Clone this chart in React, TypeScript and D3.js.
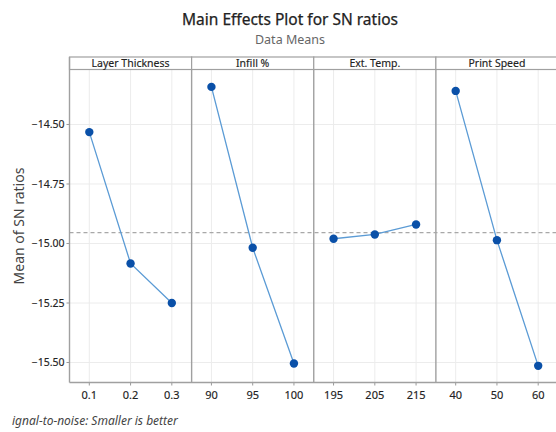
import React from 'react';
import * as d3 from 'd3';

// factor levels and mean SN ratios
const factors = ['Layer Thickness', 'Infill %', 'Ext. Temp.', 'Print Speed'];
const layerLevels = ['0.1', '0.2', '0.3'];
const layerSN = [-14.532, -15.084, -15.25];
const infillLevels = ['90', '95', '100'];
const infillSN = [-14.342, -15.018, -15.504];
const tempLevels = ['195', '205', '215'];
const tempSN = [-14.98, -14.962, -14.92];
const speedLevels = ['40', '50', '60'];
const speedSN = [-14.359, -14.986, -15.514];
const yTicks = [-14.5, -14.75, -15.0, -15.25, -15.5];

const W = 556;
const H = 432;
const plotLeft = 69.5;
const plotRight = 558;
const stripTop = 57;
const plotTop = 69.5;
const plotBottom = 382.5;
const font = "'Noto Sans', 'Open Sans', sans-serif";

const App = () => {
  const levels = [layerLevels, infillLevels, tempLevels, speedLevels];
  const values = [layerSN, infillSN, tempSN, speedSN];
  const grandMean = d3.mean(values.flat()) as number;

  const y = d3.scaleLinear().domain([-15.584, -14.269]).range([plotBottom, plotTop]);
  const panel = d3.scaleBand().domain(factors).range([plotLeft, plotRight]).paddingInner(0);
  const fmt = d3.format('.2f');

  const line = d3.line<[number, number]>().x(d => d[0]).y(d => d[1]);

  return (
    <svg width={W} height={H} style={{ position: 'absolute', left: 0, top: 0, background: '#fff' }} fontFamily={font}>
      <text x={290} y={25} textAnchor="middle" fontSize={15.5} fill="#222" stroke="#222" strokeWidth={0.25}>Main Effects Plot for SN ratios</text>
      <text x={290} y={43.5} textAnchor="middle" fontSize={12.5} fill="#666">Data Means</text>

      {/* horizontal grid */}
      {yTicks.map(t => (
        <line key={t} x1={plotLeft} x2={plotRight} y1={y(t)} y2={y(t)} stroke="#ececec" strokeWidth={1} />
      ))}

      {factors.map((f, i) => {
        const x0 = panel(f) as number;
        const bw = panel.bandwidth();
        const x = d3.scalePoint().domain(levels[i]).range([x0, x0 + bw]).padding(0.48);
        return (
          <g key={f}>
            {levels[i].map(l => (
              <g key={l}>
                <line x1={x(l)} x2={x(l)} y1={plotTop} y2={plotBottom} stroke="#ececec" />
                <line x1={x(l)} x2={x(l)} y1={plotBottom} y2={plotBottom + 3} stroke="#999" />
                <text x={x(l)} y={plotBottom + 16} textAnchor="middle" fontSize={11} fill="#222" stroke="#222" strokeWidth={0.15}>{l}</text>
              </g>
            ))}
            <rect x={x0} y={stripTop} width={bw} height={plotTop - stripTop} fill="#fff" stroke="#a0a0a0" strokeWidth={1.2} />
            <text x={x0 + bw / 2} y={stripTop + 9.5} textAnchor="middle" fontSize={10.5} fill="#222" stroke="#222" strokeWidth={0.15}>{f}</text>
            {i > 0 && <line x1={x0} x2={x0} y1={plotTop} y2={plotBottom} stroke="#a0a0a0" strokeWidth={1.4} />}
          </g>
        );
      })}

      {/* grand mean reference */}
      <line x1={plotLeft} x2={plotRight} y1={y(grandMean)} y2={y(grandMean)} stroke="#a8a8a8" strokeWidth={1.3} strokeDasharray="4,3" />

      {factors.map((f, i) => {
        const x0 = panel(f) as number;
        const x = d3.scalePoint().domain(levels[i]).range([x0, x0 + panel.bandwidth()]).padding(0.48);
        const pts: [number, number][] = levels[i].map((l, j) => [x(l) as number, y(values[i][j])]);
        return (
          <g key={'s' + f}>
            <path d={line(pts) as string} fill="none" stroke="#5b9bd5" strokeWidth={1.3} />
            {pts.map((p, j) => (
              <circle key={j} cx={p[0]} cy={p[1]} r={4.2} fill="#0a50a8" />
            ))}
          </g>
        );
      })}

      {/* frame */}
      <line x1={plotLeft} x2={plotLeft} y1={stripTop} y2={plotBottom} stroke="#a0a0a0" strokeWidth={1.4} />
      <line x1={plotLeft} x2={plotRight} y1={plotBottom} y2={plotBottom} stroke="#a0a0a0" strokeWidth={1.4} />

      {yTicks.map(t => (
        <g key={'yt' + t}>
          <line x1={plotLeft - 3} x2={plotLeft} y1={y(t)} y2={y(t)} stroke="#999" />
          <text x={plotLeft - 5} y={y(t)} dy="0.35em" textAnchor="end" fontSize={10.5} fill="#222" stroke="#222" strokeWidth={0.15}>{fmt(t)}</text>
        </g>
      ))}

      <text transform={`translate(24,${(plotTop + plotBottom) / 2}) rotate(-90)`} textAnchor="middle" fontSize={14} fill="#444">Mean of SN ratios</text>

      <text x={12} y={425} fontSize={12} fontStyle="italic" fill="#444">ignal-to-noise: Smaller is better</text>
    </svg>
  );
};

export default App;
